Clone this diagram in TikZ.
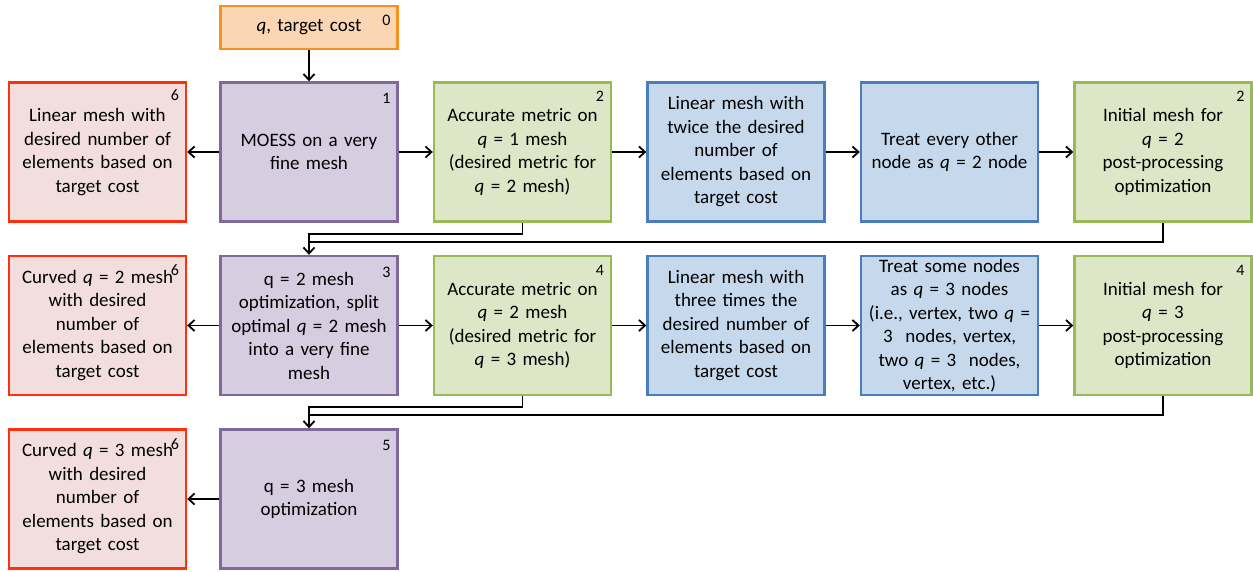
\documentclass[tikz,border=0pt]{standalone}
\usepackage{fontspec}
\setmainfont{Carlito}
\usepackage{tikz}
\usetikzlibrary{arrows.meta,positioning}

\definecolor{orangeline}{HTML}{F7901E}
\definecolor{orangefill}{HTML}{FBD6B4}
\definecolor{redline}{HTML}{FF2F0F}
\definecolor{redfill}{HTML}{F2DFDD}
\definecolor{purpleline}{HTML}{7F689C}
\definecolor{purplefill}{HTML}{D7CDE1}
\definecolor{greenline}{HTML}{98B954}
\definecolor{greenfill}{HTML}{DEE6C8}
\definecolor{blueline}{HTML}{4A7EBB}
\definecolor{bluefill}{HTML}{C5D8EC}

\newcommand{\qq}{\textit{q}}

\tikzset{
  box/.style={draw, line width=2.4pt, minimum width=177pt, minimum height=139pt,
    text width=176pt, align=center, inner sep=0pt, font=\fontsize{19}{23.5}\selectfont},
  inbox/.style={box, draw=orangeline, fill=orangefill, minimum height=43pt},
  outbox/.style={box, draw=redline, fill=redfill},
  optbox/.style={box, draw=purpleline, fill=purplefill},
  metricbox/.style={box, draw=greenline, fill=greenfill},
  linbox/.style={box, draw=blueline, fill=bluefill},
  tagnum/.style={inner sep=0pt, font=\fontsize{16}{16}\selectfont},
  flow/.style={line width=1.8pt, -{Straight Barb[length=6pt,width=11pt]}},
  feed/.style={line width=1.8pt},
}

\begin{document}
\begin{tikzpicture}[x=1pt,y=-1pt]
\useasboundingbox (0,0) rectangle (1253,572);

% input
\node[inbox] (in) at (309,27.5) {\qq, target cost};

% first pass, q = 2
\node[outbox]    (r1) at (97.5,152) {Linear mesh with\\desired number of\\elements based on\\target cost};
\node[optbox]    (m1) at (309,152) {MOESS on a very\\fine mesh};
\node[metricbox] (a1) at (522.5,152) {Accurate metric on\\\qq{} = 1 mesh\\(desired metric for\\\qq{} = 2 mesh)};
\node[linbox]    (l1) at (736,152) {Linear mesh with\\twice the desired\\number of\\elements based on\\target cost};
\node[linbox]    (t1) at (949.5,152) {Treat every other\\node as \qq{} = 2 node};
\node[metricbox] (i1) at (1163,152) {Initial mesh for\\\qq{} = 2\\post-processing\\optimization};

% second pass, q = 3
\node[outbox]    (r2) at (97.5,325.5) {Curved \qq{} = 2 mesh\\with desired\\number of\\elements based on\\target cost};
\node[optbox]    (m2) at (309,325.5) {q = 2 mesh\\optimization, split\\optimal \qq{} = 2 mesh\\into a very fine\\mesh};
\node[metricbox] (a2) at (522.5,325.5) {Accurate metric on\\\qq{} = 2 mesh\\(desired metric for\\\qq{} = 3 mesh)};
\node[linbox]    (l2) at (736,325.5) {Linear mesh with\\three times the\\desired number of\\elements based on\\target cost};
\node[linbox]    (t2) at (949.5,325.5) {Treat some nodes\\as \qq{} = 3 nodes\\(i.e., vertex, two \qq{} =\\3~ nodes, vertex,\\two \qq{} = 3~ nodes,\\vertex, etc.)};
\node[metricbox] (i2) at (1163,325.5) {Initial mesh for\\\qq{} = 3\\post-processing\\optimization};

% final
\node[outbox] (r3) at (97.5,499) {Curved \qq{} = 3 mesh\\with desired\\number of\\elements based on\\target cost};
\node[optbox] (m3) at (309,499) {q = 3 mesh\\optimization};

% step numbers
\node[tagnum, below left=10pt and 8pt of in.north east] (n0) {0};
\node[tagnum, below left=8pt and 8pt of r1.north east] (n6a) {6};
\node[tagnum, below left=12pt and 8pt of m1.north east] (n1) {1};
\node[tagnum, below left=10pt and 8pt of a1.north east] (n2a) {2};
\node[tagnum, below left=10pt and 8pt of i1.north east] (n2b) {2};
\node[tagnum, below left=10pt and 8pt of r2.north east] (n6b) {6};
\node[tagnum, below left=12pt and 8pt of m2.north east] (n3) {3};
\node[tagnum, below left=10pt and 8pt of a2.north east] (n4a) {4};
\node[tagnum, below left=10pt and 8pt of i2.north east] (n4b) {4};
\node[tagnum, below left=10pt and 8pt of r3.north east] (n6c) {6};
\node[tagnum, below left=12pt and 8pt of m3.north east] (n5) {5};

% arrows along the rows
\draw[flow] (in) -- (m1);
\draw[flow] (m1) -- (r1);
\draw[flow] (m1) -- (a1);
\draw[flow] (a1) -- (l1);
\draw[flow] (l1) -- (t1);
\draw[flow] (t1) -- (i1);

\draw[flow] (m2) -- (r2);
\draw[flow] (m2) -- (a2);
\draw[flow] (a2) -- (l2);
\draw[flow] (l2) -- (t2);
\draw[flow] (t2) -- (i2);

\draw[flow] (m3) -- (r3);

% feeding the next pass
\coordinate (j1) at ([yshift=13pt]m2.north);
\coordinate (j2) at ([yshift=13pt]m3.north);
\draw[flow] (a1.south) -- ++(0,11) -| (m2.north);
\draw[feed] (i1.south) |- (j1);
\draw[flow] (a2.south) -- ++(0,11) -| (m3.north);
\draw[feed] (i2.south) |- (j2);
\end{tikzpicture}
\end{document}
